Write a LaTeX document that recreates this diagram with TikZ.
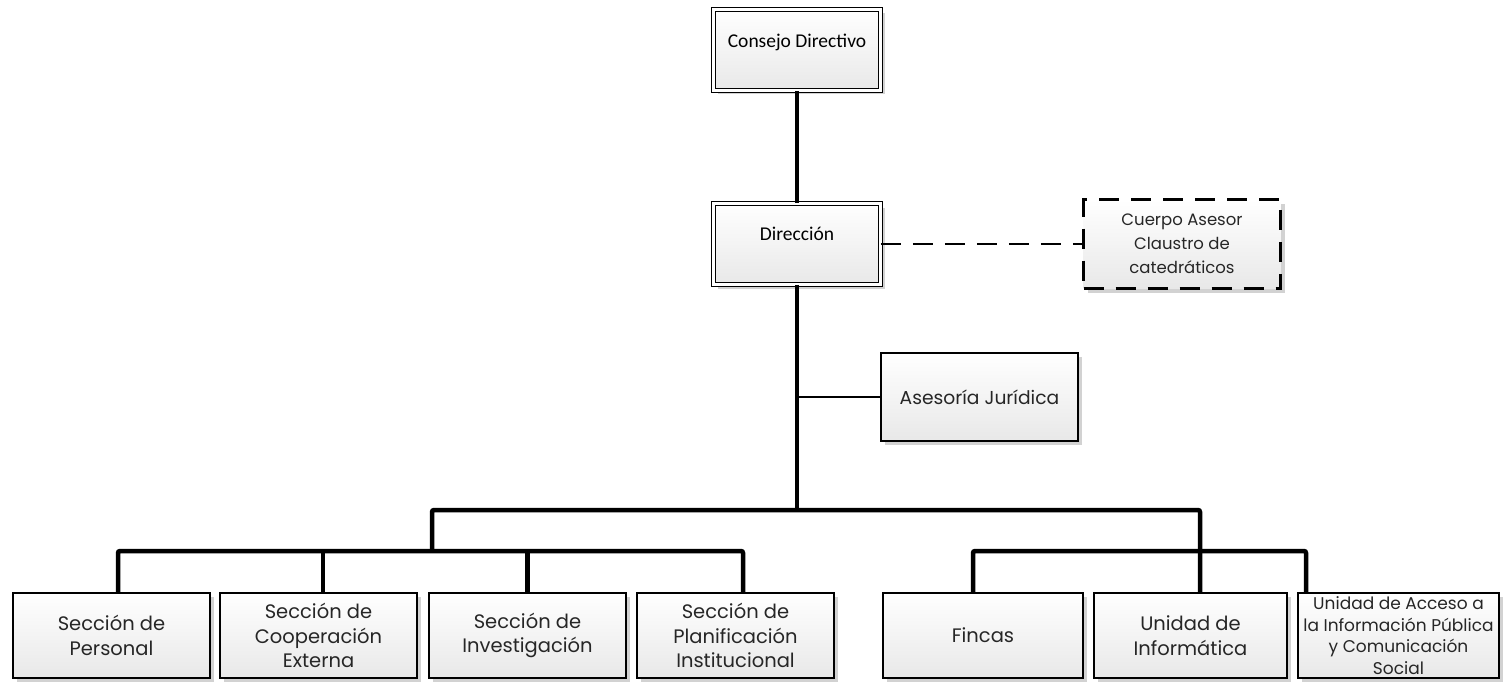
\documentclass[tikz,border=0pt]{standalone}
\usepackage{fontspec}
\setmainfont{Carlito}
\newfontfamily\gothic{Poppins}
\usetikzlibrary{shadows}
\begin{document}
\begin{tikzpicture}[x=1pt,y=-1pt,
  shade box/.style={top color=white,bottom color=black!9,
    drop shadow={shadow xshift=4pt,shadow yshift=-4pt,fill=black!35,opacity=.5}},
  dbox/.style={shade box,draw,line width=0.8pt,double,double distance=2.6pt,
    minimum width=167pt,minimum height=81pt,inner sep=0pt},
  ubox/.style={shade box,draw,line width=1.8pt,minimum height=85pt,inner sep=1pt,
    align=center,font=\gothic\fontsize{19.5}{24.5}\selectfont,text=black!85},
  dashline/.style={line width=2.8pt,dash pattern=on 20pt off 12pt},
  conn/.style={line width=4.5pt,rounded corners=2pt},
]
\useasboundingbox (0,0) rectangle (1505,682);
% top boxes
\node[dbox,label={[anchor=center,yshift=-33pt,font=\fontsize{19.5}{22}\selectfont]north:Consejo Directivo}] (cd) at (797,50) {};
\node[dbox,label={[anchor=center,yshift=-31pt,font=\fontsize{19.5}{22}\selectfont]north:Dirección}] (dir) at (797,244) {};
\node[shade box,draw,dashline,minimum width=197pt,minimum height=89pt,
  align=center,font=\gothic\fontsize{16.5}{24}\selectfont,text=black!85] (ca) at (1182,244)
  {Cuerpo Asesor\\Claustro de\\catedráticos};
\node[ubox,minimum width=197pt,minimum height=88pt,font=\gothic\fontsize{18.7}{24}\selectfont] (aj) at (979.5,397) {Asesoría Jurídica};
% bottom row
\node[ubox,minimum width=197pt] (sp) at (111.5,635.5) {Sección de\\Personal};
\node[ubox,minimum width=197pt] (sc) at (318.5,635.5) {Sección de\\Cooperación\\Externa};
\node[ubox,minimum width=197pt] (si) at (527.5,635.5) {Sección de\\Investigación};
\node[ubox,minimum width=197pt] (spl) at (735.5,635.5) {Sección de\\Planificación\\Institucional};
\node[ubox,minimum width=200pt] (fi) at (983,635.5) {Fincas};
\node[ubox,minimum width=193pt] (ui) at (1190.5,635.5) {Unidad de\\Informática};
\node[ubox,minimum width=201pt,inner sep=0pt,font=\gothic\fontsize{17}{21.7}\selectfont] (ua) at (1398.5,635.5)
  {Unidad de Acceso a\\la Información Pública\\y Comunicación\\Social};
% junctions
\coordinate (j1) at (797,510);
\coordinate (jl) at (432,551);
\coordinate (jr) at (1200,510);
% connectors
\draw[conn] (cd.south) -- (dir.north);
\draw[conn] (dir.south) -- (j1);
\draw[line width=1.8pt] (aj.west) -- (aj.west -| dir.south);
\draw[dashline] (dir.east |- ca.west) -- (ca.west);
\draw[conn] (jl) |- (jr) -- ([xshift=9.5pt]ui.north);
\draw[conn] ([xshift=6.5pt]sp.north) |- (jl) -| ([xshift=7.5pt]spl.north);
\draw[conn] (jl -| sc.north) ++(4.5pt,0) -- ([xshift=4.5pt]sc.north);
\draw[conn] (jl -| si.north) -- (si.north);
\draw[conn] ([xshift=-10pt]fi.north) |- (1200,551) -| ([xshift=-92.5pt]ua.north);
\end{tikzpicture}
\end{document}
